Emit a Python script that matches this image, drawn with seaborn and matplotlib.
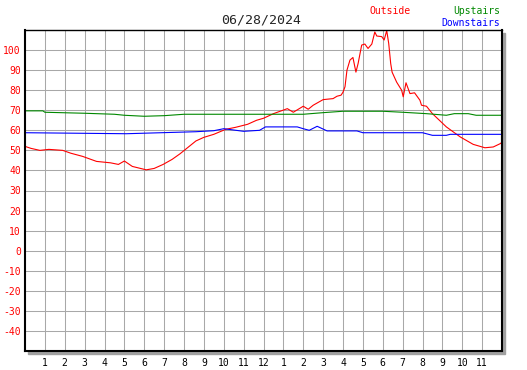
import numpy as np
import matplotlib
matplotlib.use("Agg")
import matplotlib.pyplot as plt
import seaborn as sns
from matplotlib.patches import Rectangle

# chart data
title = "06/28/2024"
hour_labels = ["1", "2", "3", "4", "5", "6", "7", "8", "9", "10", "11", "12",
               "1", "2", "3", "4", "5", "6", "7", "8", "9", "10", "11"]
y_ticks = list(range(-40, 101, 10))

outside_hours = [0, 0.3, 0.75, 1.2, 1.9, 2.3, 2.9, 3.6, 4.3, 4.7, 5.0, 5.4, 6.1, 6.5,
                 6.95, 7.4, 7.8, 8.2, 8.6, 9.0, 9.5, 10.1, 10.6, 11.2, 11.65, 12.0,
                 12.5, 13.2, 13.5, 14.0, 14.25, 14.5, 15.0, 15.5, 15.7, 15.9, 16.0,
                 16.1, 16.2, 16.35, 16.5, 16.65, 16.76, 16.94, 17.1, 17.26, 17.45,
                 17.6, 17.7, 17.95, 18.07, 18.2, 18.3, 18.4, 18.47, 18.7, 18.95,
                 19.03, 19.17, 19.37, 19.6, 19.87, 19.95, 20.2, 20.5, 21.2, 21.9,
                 22.55, 23.14, 23.56, 23.9, 24]
outside_temp = [52, 51, 50, 50.5, 50, 48.6, 47, 44.5, 43.8, 43, 44.7, 42, 40.3, 41,
                43, 45.5, 48.3, 51.5, 54.7, 56.5, 58, 60.5, 61.5, 63, 65, 66,
                68.3, 70.8, 69, 72, 70.5, 72.5, 75.3, 75.8, 77, 77.5, 79,
                81.7, 90, 95, 96.3, 89, 93.3, 102.5, 103, 100.8, 103,
                109, 107, 106.7, 105, 109.7, 103.3, 93.3, 89, 84, 80,
                76.7, 83.7, 78.3, 78.7, 75, 72.5, 72, 68.3, 61.7, 56.7,
                53, 51.3, 51.7, 53.3, 54]

upstairs_hours = [0, 0.9, 1.0, 3.0, 4.5, 5.0, 6.0, 7.0, 8.0, 12.0, 14.0, 15.0, 16.0,
                  18.0, 19.0, 20.2, 21.2, 21.6, 22.3, 22.7, 24]
upstairs_temp = [69.7, 69.7, 69, 68.5, 68, 67.5, 67, 67.3, 68, 68, 68, 68.8, 69.5,
                 69.5, 69, 68.3, 67.5, 68.3, 68.3, 67.5, 67.5]

downstairs_hours = [0, 5.1, 8.6, 9.5, 10.0, 11.0, 11.8, 12.1, 13.7, 14.0, 14.3, 14.7,
                    15.2, 16.7, 17.0, 20.0, 20.5, 21.2, 21.4, 24]
downstairs_temp = [58.8, 58.3, 59.3, 59.8, 60.8, 59.5, 60, 61.7, 61.7, 60.8, 60, 62,
                   59.7, 59.7, 58.8, 58.8, 57.5, 57.5, 58, 58]

sns.set_style("white")
plt.rcParams["font.family"] = ["DejaVu Sans Mono", "DejaVu Sans"]
plt.rcParams["axes.unicode_minus"] = False

W, H = 527, 370
fig = plt.figure(figsize=(W / 100, H / 100), dpi=100)
l, r, t, b = 25, 502, 30, 351
ax = fig.add_axes([l / W, (H - b) / H, (r - l) / W, (b - t) / H])
ax.set_zorder(2)

# drop shadow behind the plot box
shadow = Rectangle(((l + 3) / W, (H - b - 3) / H), (r - l) / W, (b - t) / H,
                   transform=fig.transFigure, color="#a0a0a0", zorder=1)
fig.patches.append(shadow)

sns.lineplot(x=outside_hours, y=outside_temp, color="#ff0000", linewidth=0.8, ax=ax)
sns.lineplot(x=upstairs_hours, y=upstairs_temp, color="#008800", linewidth=0.8, ax=ax)
sns.lineplot(x=downstairs_hours, y=downstairs_temp, color="#0000ff", linewidth=0.8, ax=ax)

ax.set_xlim(0, 24)
ax.set_ylim(-50, 110)
ax.set_xticks(range(1, 24))
ax.set_xticklabels(hour_labels)
ax.set_yticks(y_ticks)
ax.set_yticklabels([str(v) for v in y_ticks])
ax.grid(True, color="#a8a8a8", lw=0.75)
ax.set_axisbelow(True)
ax.tick_params(axis="both", direction="in", length=4, width=1, color="black", labelsize=7)
ax.tick_params(axis="y", labelcolor="#ff0000", pad=3)
ax.tick_params(axis="x", labelcolor="black", pad=5)
for side in ["left", "bottom", "right"]:
    ax.spines[side].set_linewidth(1.5)
    ax.spines[side].set_color("black")
ax.spines["top"].set_linewidth(1)
ax.spines["top"].set_color("black")
ax.set_xlabel("")
ax.set_ylabel("")

fig.text(261 / W, 1 - 20 / H, title, ha="center", va="center", fontsize=9.5)
fig.text(369 / W, 1 - 11 / H, "Outside", ha="left", va="center", fontsize=7, color="#ff0000")
fig.text(500 / W, 1 - 11 / H, "Upstairs", ha="right", va="center", fontsize=7, color="#008800")
fig.text(500 / W, 1 - 23 / H, "Downstairs", ha="right", va="center", fontsize=7, color="#0000ff")

fig.savefig("out.png", dpi=100)
